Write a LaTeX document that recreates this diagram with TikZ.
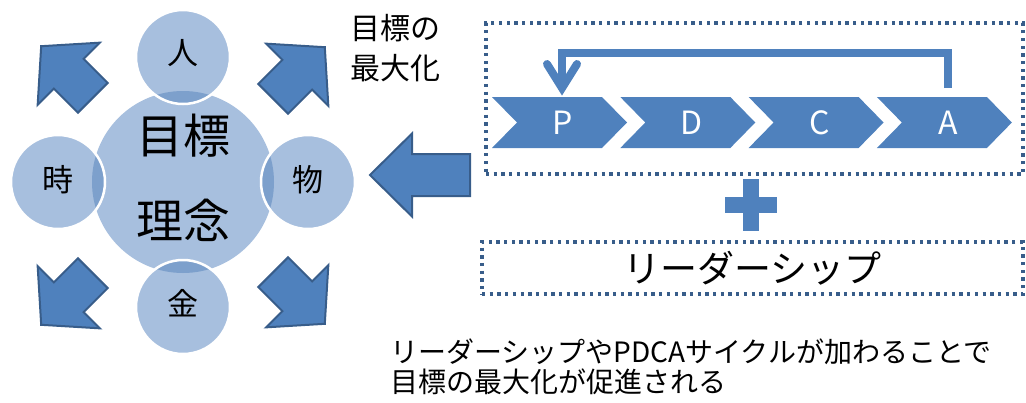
\documentclass[tikz,border=0pt]{standalone}
\usepackage{fontspec}
\setmainfont{Noto Sans CJK JP}
\usetikzlibrary{calc}
\definecolor{mblue}{HTML}{4F81BD}
\definecolor{mdark}{HTML}{385D8A}
\definecolor{clight}{HTML}{A7BFDE}
\definecolor{cdark}{HTML}{7DA0CC}
\tikzset{
 blockarrow/.style={fill=mblue, draw=mdark, line width=2pt, line join=miter},
 chevtext/.style={text=white, font=\fontsize{32}{36}\selectfont, inner sep=0pt},
 dotbox/.style={draw=mdark, line width=3.3pt, dash pattern=on 3.3pt off 4.4pt, inner sep=0pt},
 fbline/.style={draw=mblue, line width=8pt},
 smallcirc/.style={circle, minimum size=94pt, inner sep=0pt, fill=clight},
 ctext/.style={font=\fontsize{31}{36}\selectfont, inner sep=0pt},
}
\begin{document}
\begin{tikzpicture}[x=1pt,y=-1pt]
\useasboundingbox (0,0) rectangle (1026,402);

% central circle
\node[circle, minimum size=182pt, inner sep=0pt, fill=clight] (core) at (183,182) {};
\foreach \n/\x/\y in {jin/183/57, kin/183/307, ji/58/182, mono/308/182} {
  \node[smallcirc] (\n) at (\x,\y) {};
  \begin{scope}
    \clip (183,182) circle[radius=91pt];
    \fill[cdark] (\x,\y) circle[radius=47pt];
  \end{scope}
  \draw[white, line width=2.5pt] (\x,\y) circle[radius=47pt];
}
\node[font=\fontsize{47}{85}\selectfont, align=center, inner sep=0pt] (coretext) at (183,178) {目標\\理念};
\node[ctext] (tjin) at ([yshift=4pt]jin.center) {人};
\node[ctext] (tkin) at ([yshift=4pt]kin.center) {金};
\node[ctext] (tji) at ([yshift=2pt]ji.center) {時};
\node[ctext] (tmono) at ([yshift=2pt]mono.center) {物};

% diagonal block arrows
\foreach \cx/\cy/\ang in {67/72/135, 299/73/45, 67/299/225, 299/298/-45} {
  \draw[blockarrow, shift={(\cx,\cy)}, rotate=\ang]
    (36.5,0) -- (-2.5,44) -- (-2.5,21) -- (-36.5,21) -- (-36.5,-21)
    -- (-2.5,-21) -- (-2.5,-44) -- cycle;
}

% big left arrow
\draw[blockarrow] (370,175) -- (412,133.5) -- (412,154) -- (470,154) -- (470,196)
  -- (412,196) -- (412,216.5) -- cycle;

% PDCA chevrons
\foreach \i/\L in {0/P,1/D,2/C,3/A} {
  \pgfmathsetmacro\xo{492+128.3*\i}
  \fill[mblue] (\xo,97) -- ++(110,0) -- ++(25,25.5) -- ++(-25,25.5) -- ++(-110,0)
    -- ++(25,-25.5) -- cycle;
  \node[chevtext] (\L) at (\xo+71,122.5) {\L};
}

% feedback arrow A -> P
\coordinate (fbstart) at ($(A)+(0.5,-34.5)$);
\coordinate (fbtip) at ($(P)+(-1,-34.5)$);
\draw[fbline] (fbstart) -- ($(fbstart)+(0,-35)$) -| (fbtip);
\draw[fbline, line cap=round] ($(fbtip)+(-15,-24)$) -- (fbtip) -- ($(fbtip)+(15,-24)$);

% dotted boxes
\node[dotbox, minimum width=537pt, minimum height=151pt] (pdcabox) at (754.5,98.5) {};
\node[dotbox, minimum width=541pt, minimum height=52pt, font=\fontsize{37}{40}\selectfont] (lead) at (752.5,268) {リーダーシップ};

% plus sign
\fill[mblue] (743,179) rectangle (759,231);
\fill[mblue] (725,197) rectangle (777,213);

% texts
\node[font=\fontsize{30}{40}\selectfont, align=left, anchor=west, inner sep=0pt] (goal) at (350,48.5) {目標の\\最大化};
\node[font=\fontsize{28}{30}\selectfont, align=left, anchor=west, inner sep=0pt] (summary) at (390,367) {リーダーシップやPDCAサイクルが加わることで\\目標の最大化が促進される};
\end{tikzpicture}
\end{document}
